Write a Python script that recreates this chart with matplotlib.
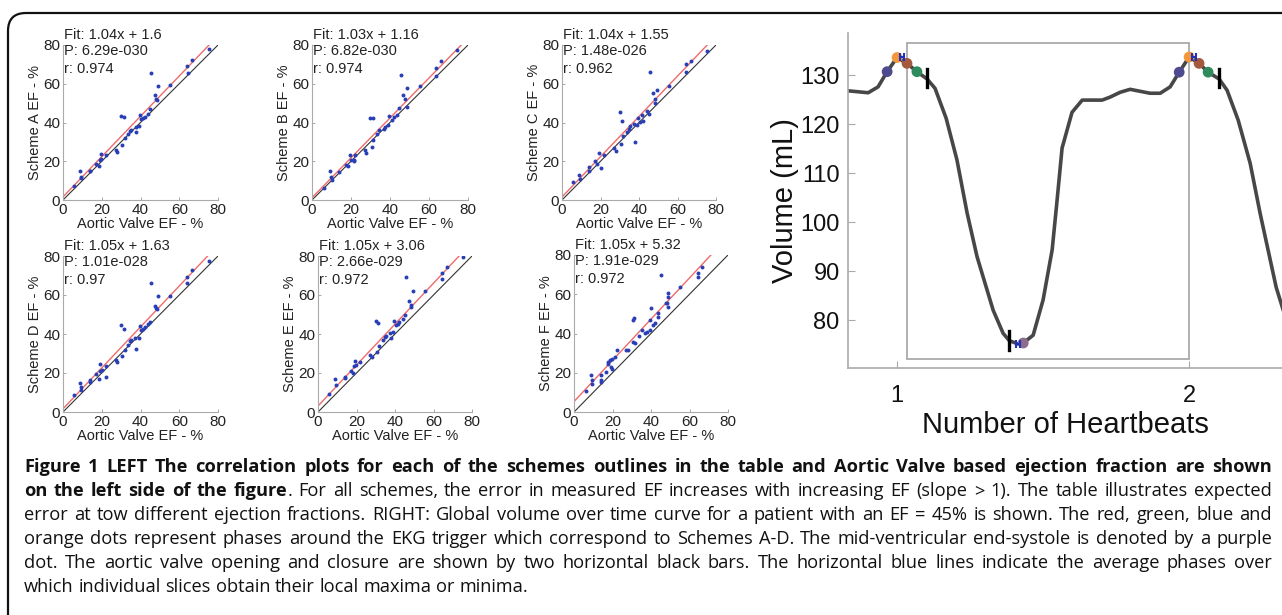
import matplotlib
matplotlib.use("Agg")
import matplotlib.pyplot as plt
from matplotlib.patches import FancyBboxPatch, Rectangle
from matplotlib.transforms import IdentityTransform
import numpy as np

# ---------------- data ----------------
a_x = [5.5, 9.0, 9.5, 9.3, 13.8, 14.1, 17.2, 18.4, 19.4, 18.9, 19.8, 22.0, 27.2, 27.9, 30.1, 31.3, 30.5,
       31.8, 33.6, 34.8, 35.3, 37.5, 37.9, 39.2, 39.6, 40.4, 41.3, 42.2, 43.9, 45.1, 45.6, 47.3, 48.2,
       49.1, 48.5, 55.4, 64.2, 64.5, 66.8, 75.4]
a_y = [7.4, 14.9, 11.7, 11.2, 14.9, 15.2, 18.7, 17.8, 23.5, 20.7, 21.2, 23.3, 25.6, 24.7, 43.5, 42.8, 28.2,
       32.1, 34.2, 35.6, 36.3, 37.7, 35.1, 38.0, 43.7, 42.0, 42.5, 42.8, 44.6, 47.2, 65.6, 54.1, 52.3,
       58.7, 51.5, 59.2, 69.1, 65.6, 72.5, 77.9]

b_x = [6.0, 9.4, 9.7, 10.2, 14.1, 17.5, 18.7, 19.6, 19.9, 21.3, 22.1, 21.6, 27.2, 27.7, 29.8, 31.5, 30.6,
       31.5, 33.2, 34.6, 36.9, 37.4, 39.1, 39.6, 40.9, 42.0, 43.4, 44.8, 45.4, 46.8, 47.7, 48.5, 48.5,
       55.3, 63.5, 63.5, 66.4, 74.4]
b_y = [6.2, 14.9, 11.7, 10.4, 14.3, 18.1, 17.3, 23.0, 20.4, 20.7, 23.3, 19.9, 25.6, 24.2, 42.5, 42.5, 27.6,
       31.1, 34.2, 35.9, 36.8, 37.7, 38.5, 43.4, 41.5, 42.8, 43.7, 47.7, 64.4, 54.1, 52.3, 58.0, 48.0,
       58.7, 67.9, 63.9, 71.8, 77.4]

c_x = [5.5, 9.0, 9.5, 13.8, 14.1, 17.2, 18.4, 19.4, 20.5, 22.0, 27.2, 27.9, 30.1, 31.3, 30.5, 31.8,
       33.6, 34.8, 35.3, 37.5, 37.9, 39.2, 39.6, 40.4, 41.3, 42.2, 43.9, 45.1, 45.6, 47.3, 48.2, 49.1,
       48.5, 55.4, 64.2, 64.5, 66.8, 75.4]
c_y = [9.5, 13.0, 11.0, 17.0, 15.0, 20.0, 18.5, 24.5, 16.5, 23.0, 27.0, 25.5, 45.5, 41.0, 29.0, 33.0,
       35.0, 36.5, 38.0, 39.0, 30.0, 38.5, 42.5, 40.5, 44.0, 41.0, 46.0, 44.5, 66.0, 55.0, 50.0, 57.0,
       52.0, 59.0, 70.0, 66.0, 72.0, 77.0]

d_x = [5.5, 9.0, 9.5, 9.5, 13.8, 14.1, 17.2, 18.4, 19.3, 18.9, 20.3, 22.0, 22.0, 27.2, 27.9, 30.1, 31.3,
       30.5, 31.8, 33.6, 34.8, 35.3, 37.0, 37.5, 39.2, 39.6, 40.4, 41.3, 42.2, 43.9, 45.1, 45.6, 47.3,
       48.2, 49.1, 48.5, 55.4, 64.2, 64.2, 66.8, 75.4]
d_y = [8.6, 15.1, 12.8, 11.5, 15.6, 16.3, 19.3, 17.1, 24.5, 21.1, 21.4, 23.5, 18.0, 26.5, 25.5, 44.5, 42.8,
       28.6, 32.0, 34.6, 36.5, 36.8, 38.2, 32.5, 38.2, 44.3, 42.0, 42.8, 43.7, 45.0, 46.2, 66.4, 54.3,
       53.3, 59.4, 52.6, 59.4, 69.3, 66.4, 72.8, 77.6]

e_x = [5.5, 9.0, 9.5, 13.8, 14.1, 17.2, 18.4, 19.4, 18.9, 19.8, 22.0, 27.2, 27.9, 30.1, 31.3, 30.5, 31.8,
       33.6, 34.8, 35.3, 37.5, 37.9, 39.2, 39.6, 40.4, 41.3, 42.2, 43.9, 45.1, 45.6, 47.3, 48.2, 49.1,
       48.5, 55.4, 64.2, 64.5, 66.8, 75.4]
e_y = [9.0, 17.0, 14.0, 17.5, 18.0, 21.0, 20.0, 26.0, 23.5, 24.0, 25.5, 29.0, 28.0, 46.5, 45.5, 31.0, 34.0,
       37.0, 38.5, 39.0, 40.5, 38.0, 41.0, 46.5, 44.5, 45.0, 46.0, 47.5, 49.5, 69.0, 57.0, 55.0, 62.0,
       54.0, 62.0, 71.5, 68.0, 74.5, 79.5]

f_x = [6.2, 8.6, 9.2, 9.2, 13.8, 13.8, 13.8, 16.6, 17.8, 17.8, 18.7, 19.5, 19.0, 19.5, 21.2, 22.5, 26.9,
       28.2, 30.4, 31.1, 30.7, 31.6, 33.8, 35.1, 36.8, 37.7, 39.7, 39.7, 40.2, 41.1, 42.0, 43.7, 43.7,
       45.4, 47.7, 48.4, 48.9, 48.9, 48.9, 55.3, 64.4, 64.4, 66.7]
f_y = [10.7, 18.7, 16.2, 14.5, 18.7, 16.5, 15.3, 20.4, 25.5, 24.3, 26.7, 27.2, 23.0, 22.1, 28.1, 31.8, 31.5,
       31.5, 47.1, 47.7, 35.7, 35.2, 38.6, 42.0, 40.3, 40.9, 41.7, 47.1, 52.8, 44.3, 45.1, 50.2, 48.5,
       69.8, 55.7, 55.3, 60.8, 58.4, 53.6, 63.8, 71.0, 68.9, 74.0]

schemes = ["A", "B", "C", "D", "E", "F"]
slopes = [1.04, 1.03, 1.04, 1.05, 1.05, 1.05]
intercepts = [1.6, 1.16, 1.55, 1.63, 3.06, 5.32]
pvalues = ["6.29e-030", "6.82e-030", "1.48e-026", "1.01e-028", "2.66e-029", "1.91e-029"]
rvalues = ["0.974", "0.974", "0.962", "0.97", "0.972", "0.972"]
scatter_x = [a_x, b_x, c_x, d_x, e_x, f_x]
scatter_y = [a_y, b_y, c_y, d_y, e_y, f_y]
ef_ticks = [0, 20, 40, 60, 80]

# volume curve (right panel)
beats = [0.832, 0.901, 0.935, 0.966, 1.0, 1.034, 1.068, 1.103, 1.130, 1.168, 1.205, 1.240, 1.274, 1.329,
         1.363, 1.384, 1.414, 1.432, 1.466, 1.500, 1.531, 1.548, 1.565, 1.599, 1.634, 1.702, 1.729, 1.764,
         1.798, 1.866, 1.901, 1.935, 1.966, 2.0, 2.034, 2.065, 2.103, 2.130, 2.168, 2.209, 2.243, 2.298, 2.33]
volume = [126.8, 126.4, 127.6, 130.7, 133.6, 132.4, 130.7, 129.2, 127.3, 121.2, 112.7, 101.8, 92.9, 82.0,
          77.3, 75.8, 75.1, 75.3, 76.9, 84.1, 94.3, 104.5, 115.1, 122.4, 124.9, 124.9, 125.5, 126.5,
          127.1, 126.3, 126.3, 127.6, 130.6, 133.7, 132.4, 130.6, 129.2, 126.9, 120.8, 112.0, 101.8, 86.7, 80.5]
dot_x = [0.966, 1.0, 1.034, 1.068, 1.966, 2.0, 2.034, 2.065, 1.432]
dot_y = [130.7, 133.6, 132.4, 130.7, 130.6, 133.7, 132.4, 130.6, 75.3]
dot_colors = ["#4e4a8e", "#f4973a", "#a5593c", "#2f8a5c", "#4e4a8e", "#f4973a", "#a5593c", "#2f8a5c", "#8c6c8c"]
valve_x = [1.103, 2.103, 1.384]
valve_y = [129.4, 129.4, 75.8]
valve_half = 1.9
blue_x = [1.017, 2.017, 1.414]
blue_y = [133.8, 133.8, 75.0]
blue_halfwidth = 0.008
box_beats = [1.034, 2.0]
box_volume = [72.0, 136.5]
vol_ticks = [80, 90, 100, 110, 120, 130]
beat_ticks = [1, 2]

caption = [
    [("Figure 1 LEFT The correlation plots for each of the schemes outlines in the table and Aortic Valve based ejection fraction are shown", "bold")],
    [("on the left side of the figure", "bold"), (". For all schemes, the error in measured EF increases with increasing EF (slope > 1). The table illustrates expected", "normal")],
    [("error at tow different ejection fractions. RIGHT: Global volume over time curve for a patient with an EF = 45% is shown. The red, green, blue and", "normal")],
    [("orange dots represent phases around the EKG trigger which correspond to Schemes A-D. The mid-ventricular end-systole is denoted by a purple", "normal")],
    [("dot. The aortic valve opening and closure are shown by two horizontal black bars. The horizontal blue lines indicate the average phases over", "normal")],
    [("which individual slices obtain their local maxima or minima.", "normal")],
]

# ---------------- figure ----------------
W, H = 1282, 615
plt.rcParams['font.family'] = ['Liberation Sans', 'DejaVu Sans']
fig = plt.figure(figsize=(W / 100, H / 100), dpi=100)
fig.patch.set_facecolor("white")


def ax_at(x0, y0, x1, y1):
    return fig.add_axes([x0 / W, 1 - y1 / H, (x1 - x0) / W, (y1 - y0) / H])


def ftext(x, y, s, **kw):
    return fig.text(x / W, 1 - y / H, s, **kw)


# frame around the figure
frame = FancyBboxPatch((8, -60), 1330, H - 13 + 60, boxstyle="round,pad=0,rounding_size=18",
                       transform=IdentityTransform(), fill=False, edgecolor="#111111", lw=1.6)
fig.add_artist(frame)

boxes = [(63, 45, 218, 200), (312, 45, 468, 200), (562, 45, 716, 200),
         (63, 256, 218, 412), (318, 256, 472, 412), (574, 255, 728, 412)]

txtc = "#222222"
for i, name in enumerate(schemes):
    x0, y0, x1, y1 = boxes[i]
    ax = ax_at(x0, y0, x1, y1)
    ax.set_xlim(ef_ticks[0], ef_ticks[-1])
    ax.set_ylim(ef_ticks[0], ef_ticks[-1])
    ax.plot(ef_ticks, ef_ticks, color="#333333", lw=0.8, zorder=2)
    fx = np.array([ef_ticks[0], ef_ticks[-1]])
    ax.plot(fx, slopes[i] * fx + intercepts[i], color="#f06a6a", lw=1.0, zorder=2)
    ax.scatter(scatter_x[i], scatter_y[i], s=8, color="#2a3fb5", linewidths=0, zorder=3)
    ax.set_xticks(ef_ticks)
    ax.set_yticks(ef_ticks)
    ax.tick_params(direction="in", length=2.5, width=0.6, color="#999999", labelsize=11,
                   labelcolor=txtc, pad=2)
    for s in ["top", "right"]:
        ax.spines[s].set_visible(False)
    for s in ["left", "bottom"]:
        ax.spines[s].set_color("#aaaaaa")
        ax.spines[s].set_linewidth(0.8)
    ax.set_xlabel("Aortic Valve EF - %", fontsize=10.5, color=txtc, labelpad=0)
    ax.set_ylabel("Scheme %s EF - %%" % name, fontsize=10.5, color=txtc, labelpad=1)
    ax.patch.set_alpha(0)
    ftext(x0 + 1, y0 - 10, "Fit: %sx + %s" % (slopes[i], intercepts[i]), fontsize=10.5,
          color=txtc, va="center")
    ftext(x0 + 1, y0 + 6, "P: %s" % pvalues[i], fontsize=10.5, color=txtc, va="center")
    ftext(x0 + 1, y0 + 24, "r: %s" % rvalues[i], fontsize=10.5, color=txtc, va="center")

# right panel
axr = ax_at(848, 33, 1282, 368)
axr.set_xlim(0.832, 2.318)
axr.set_ylim(70.2, 138.6)
axr.add_patch(Rectangle((box_beats[0], box_volume[0]), box_beats[1] - box_beats[0],
                        box_volume[1] - box_volume[0], fill=False, edgecolor="#aaaaaa", lw=1.3, zorder=1))
axr.plot(beats, volume, color="#474747", lw=2.6, solid_joinstyle="round", zorder=2)
axr.scatter(dot_x, dot_y, s=60, c=dot_colors, linewidths=0, zorder=4)
for vx, vy in zip(valve_x, valve_y):
    axr.plot([vx, vx], [vy - valve_half, vy + valve_half], color="black", lw=2.4, zorder=5)
for bx, by in zip(blue_x, blue_y):
    axr.errorbar([bx], [by], xerr=[blue_halfwidth], color="#2233bb", lw=1.5, capsize=3, capthick=1.5,
                 zorder=5)
axr.set_xticks(beat_ticks)
axr.set_yticks(vol_ticks)
axr.tick_params(direction="in", length=5, width=0.8, color="#aaaaaa", labelsize=17, labelcolor="#111111",
                pad=6)
axr.tick_params(axis="x", pad=12)
for s in ["top", "right"]:
    axr.spines[s].set_visible(False)
for s in ["left", "bottom"]:
    axr.spines[s].set_color("#aaaaaa")
    axr.spines[s].set_linewidth(1.2)
axr.set_xlabel("Number of Heartbeats", fontsize=21, color="#111111", labelpad=3)
axr.set_ylabel("Volume (mL)", fontsize=21, color="#111111", labelpad=1)
axr.patch.set_alpha(0)

# ---------------- caption (justified) ----------------
cap_font = ["Open Sans", "DejaVu Sans"]
renderer = fig.canvas.get_renderer()


def measure(s, wt, fs):
    t = fig.text(0, 0, s, fontsize=fs, weight=wt, family=cap_font)
    w = t.get_window_extent(renderer).width
    t.remove()
    return w


def words_of(line):
    words = []
    for text, wt in line:
        parts = text.split(" ")
        for k, p in enumerate(parts):
            if k == 0 and words and not text.startswith(" "):
                if p:
                    words[-1].append((p, wt))
            elif p:
                words.append([(p, wt)])
    return words


x_left, x_right = 24, 1272
avail = x_right - x_left
fs = 12.0
for _ in range(4):
    sp = measure("a a", "normal", fs) - measure("aa", "normal", fs)
    worst = 0
    for line in caption[:-1]:
        wds = words_of(line)
        nat = sum(measure(p, wt, fs) for wd in wds for p, wt in wd) + sp * (len(wds) - 1)
        worst = max(worst, nat / (avail * 0.985))
    fs = fs / worst
sp = measure("a a", "normal", fs) - measure("aa", "normal", fs)

line_y = [472, 496, 520, 544, 568, 592]
for li, line in enumerate(caption):
    wds = words_of(line)
    widths = [[measure(p, wt, fs) for p, wt in wd] for wd in wds]
    total = sum(sum(w) for w in widths)
    if li < len(caption) - 1:
        gap = (avail - total) / (len(wds) - 1)
    else:
        gap = sp
    x = x_left
    for wd, ws in zip(wds, widths):
        for (p, wt), w in zip(wd, ws):
            ftext(x, line_y[li], p, fontsize=fs, weight=wt, family=cap_font, color="#111111",
                  va="baseline", ha="left")
            x += w
        x += gap

fig.savefig("out.png", dpi=100)
